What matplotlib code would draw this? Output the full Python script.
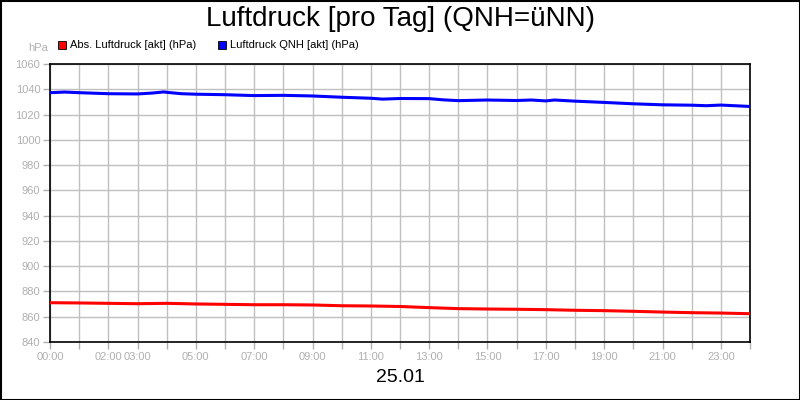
import matplotlib
matplotlib.use("Agg")
import matplotlib.pyplot as plt
from matplotlib.patches import Rectangle

plt.rcParams['font.family'] = ['Liberation Sans', 'DejaVu Sans']

title = "Luftdruck [pro Tag] (QNH=üNN)"
date_label = "25.01"
series_names = ["Abs. Luftdruck [akt] (hPa)", "Luftdruck QNH [akt] (hPa)"]
series_colors = ["#ff0000", "#0000ff"]

qnh_hours = [0, 0.5, 1, 2, 3, 3.5, 3.9, 4, 4.5, 5, 6, 7, 8, 9, 10, 11, 11.4, 12,
             13, 13.5, 14, 15, 16, 16.5, 17, 17.3, 18, 19, 20, 21, 22, 22.5, 23, 24]
qnh_values = [1037.3, 1037.8, 1037.3, 1036.5, 1036.3, 1037.0, 1037.9, 1037.6, 1036.5,
              1036.1, 1035.7, 1035.0, 1035.2, 1034.7, 1033.7, 1032.9, 1032.2, 1032.7,
              1032.6, 1031.6, 1031.0, 1031.5, 1031.1, 1031.5, 1030.8, 1031.5, 1030.6,
              1029.6, 1028.5, 1027.7, 1027.4, 1027.0, 1027.5, 1026.4]

abs_hours = [0, 1, 2, 3, 4, 5, 6, 7, 8, 9, 10, 11, 12, 13, 14, 15, 16, 17, 18,
             19, 20, 21, 22, 23, 24]
abs_values = [871.1, 870.9, 870.6, 870.3, 870.6, 870.1, 869.8, 869.5, 869.5, 869.3,
              868.7, 868.5, 868.1, 867.2, 866.4, 866.1, 865.9, 865.6, 865.1, 864.8,
              864.3, 863.7, 863.2, 862.9, 862.4]

x_label_hours = [0, 2, 3, 5, 7, 9, 11, 13, 15, 17, 19, 21, 23]
x_labels = ["00:00", "02:00", "03:00", "05:00", "07:00", "09:00", "11:00",
            "13:00", "15:00", "17:00", "19:00", "21:00", "23:00"]
y_ticks = list(range(840, 1061, 20))

fig = plt.figure(figsize=(8, 4), dpi=100)
fig.patch.set_facecolor("white")
ax = fig.add_axes([50/800, 1-342/400, 700/800, 278/400])

ax.plot(abs_hours, abs_values, color=series_colors[0], lw=2.2, zorder=3,
        solid_joinstyle='round')
ax.plot(qnh_hours, qnh_values, color=series_colors[1], lw=2.2, zorder=3,
        solid_joinstyle='round')

ax.set_xlim(0, 24)
ax.set_ylim(840, 1060)
ax.set_yticks(y_ticks)
ax.set_xticks(range(0, 25), minor=False)
ax.set_xticklabels([x_labels[x_label_hours.index(h)] if h in x_label_hours else "" for h in range(25)])
ax.grid(True, color="#c0c0c0", lw=1, zorder=0)
ax.set_axisbelow(True)
ax.tick_params(axis='both', colors="#b0b0b0", labelcolor="#b0b0b0", labelsize=8,
               length=5, width=1, direction='out', pad=2)
for s in ax.spines.values():
    s.set_color("black")
    s.set_linewidth(1.2)

fig.text(0.5, 1-18.5/400, title, ha='center', va='center', fontsize=20, color='black')
fig.text(0.5, 1-378/400, date_label, ha='center', va='center', fontsize=14, color='black')
fig.text(48/800, 1-48/400, "hPa", ha='right', va='center', fontsize=8, color="#b0b0b0")

leg_x = [58, 218]
for name, col, lx in zip(series_names, series_colors, leg_x):
    fig.patches.append(Rectangle((lx/800, 1-49/400), 8/800, 8/400, transform=fig.transFigure,
                                 facecolor=col, edgecolor='black', lw=0.6))
    fig.text((lx+12)/800, 1-45/400, name, ha='left', va='center', fontsize=8, color='black')

fig.patches.append(Rectangle((0.5/800, 0.5/400), 799/800, 399/400, transform=fig.transFigure,
                             facecolor='none', edgecolor='black', lw=1.5))

fig.savefig("out.png", dpi=100)
